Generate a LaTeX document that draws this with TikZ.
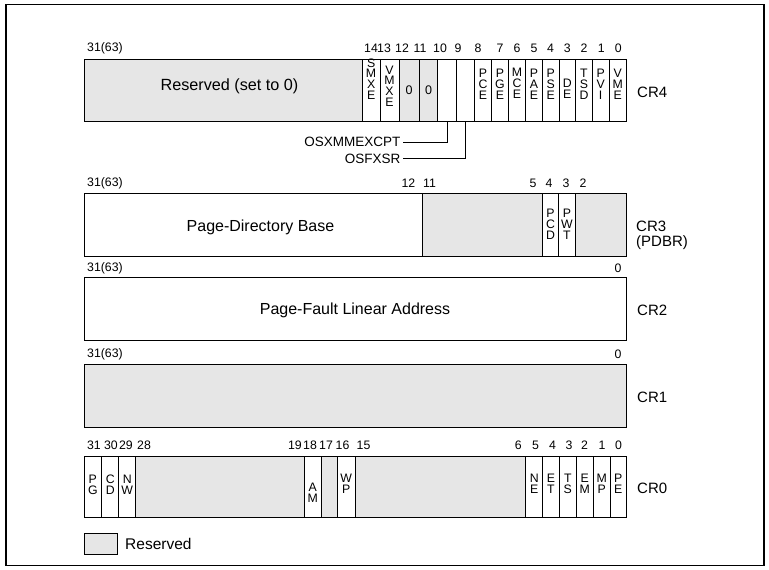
\documentclass[tikz,border=0pt]{standalone}
\usepackage{fontspec}
\setmainfont{Liberation Sans}
\definecolor{resgray}{RGB}{230,230,230}
\begin{document}
\begin{tikzpicture}[x=1pt,y=-1pt,
  cellbox/.style={draw=black,line width=1pt},
  res/.style={fill=resgray},
  bitno/.style={font=\fontsize{12.3}{13}\selectfont,inner sep=0pt},
  celltxt/.style={font=\fontsize{12.3}{10.8}\selectfont,align=center,inner sep=0pt},
  bigtxt/.style={font=\fontsize{16}{18}\selectfont,inner sep=0pt},
  crlab/.style={font=\fontsize{15}{17}\selectfont,inner sep=0pt,anchor=west},
  sidetxt/.style={font=\fontsize{13.5}{15}\selectfont,inner sep=0pt,anchor=east},
  conn/.style={draw=black,line width=1pt}]
\useasboundingbox (0,0) rectangle (769,570);
\draw[line width=1.2pt] (6,4.5) rectangle (764,565.5);

% ---------------- CR4 ----------------
\draw[cellbox,res] (84,59) rectangle (362.3,121);
\draw[cellbox] (362.3,59) rectangle (380,121);
\draw[cellbox] (380,59) rectangle (399,121);
\draw[cellbox,res] (399,59) rectangle (419.3,121);
\draw[cellbox,res] (419.3,59) rectangle (437.7,121);
\draw[cellbox] (437.7,59) rectangle (456.7,121);
\draw[cellbox] (456.7,59) rectangle (474.3,121);
\draw[cellbox] (474.3,59) rectangle (491.7,121);
\draw[cellbox] (491.7,59) rectangle (508.3,121);
\draw[cellbox] (508.3,59) rectangle (525.7,121);
\draw[cellbox] (525.7,59) rectangle (542.3,121);
\draw[cellbox] (542.3,59) rectangle (559,121);
\draw[cellbox] (559,59) rectangle (575.7,121);
\draw[cellbox] (575.7,59) rectangle (592.3,121);
\draw[cellbox] (592.3,59) rectangle (609,121);
\draw[cellbox] (609,59) rectangle (626.3,121);

\node[font=\fontsize{16.2}{19}\selectfont,inner sep=0pt] (cr4res) at (229.5,86) {Reserved (set to 0)};
\node[celltxt] (cr4smxe) at (371.1,79) {S\\M\\X\\E};
\node[celltxt] (cr4vmxe) at (389.5,86) {V\\M\\X\\E};
\node[celltxt,font=\fontsize{12.5}{12}\selectfont] (cr4z12) at (409.2,90) {0};
\node[celltxt,font=\fontsize{12.5}{12}\selectfont] (cr4z11) at (428.5,90) {0};
\node[celltxt] (cr4pce) at (483,84) {P\\C\\E};
\node[celltxt] (cr4pge) at (500,84) {P\\G\\E};
\node[celltxt] (cr4mce) at (517,83) {M\\C\\E};
\node[celltxt] (cr4pae) at (534,84) {P\\A\\E};
\node[celltxt] (cr4pse) at (550.7,84) {P\\S\\E};
\node[celltxt] (cr4de) at (567.3,89) {D\\E};
\node[celltxt] (cr4tsd) at (584,84) {T\\S\\D};
\node[celltxt] (cr4pvi) at (600.7,84) {P\\V\\I};
\node[celltxt] (cr4vme) at (617.7,84) {V\\M\\E};

\node[bitno,anchor=west] (cr4n31) at (87,48) {31(63)};
\node[bitno] (cr4n14) at (371,48) {14};
\node[bitno] (cr4n13) at (384,48) {13};
\node[bitno] (cr4n12) at (402,48) {12};
\node[bitno] (cr4n11) at (420,48) {11};
\node[bitno] (cr4n10) at (440,48) {10};
\node[bitno] (cr4n9) at (458,48) {9};
\node[bitno] (cr4n8) at (478,48) {8};
\node[bitno] (cr4n7) at (500,48) {7};
\node[bitno] (cr4n6) at (517,48) {6};
\node[bitno] (cr4n5) at (534,48) {5};
\node[bitno] (cr4n4) at (550.6,48) {4};
\node[bitno] (cr4n3) at (567.4,48) {3};
\node[bitno] (cr4n2) at (584,48) {2};
\node[bitno] (cr4n1) at (601.3,48) {1};
\node[bitno] (cr4n0) at (618.3,48) {0};
\node[crlab] (cr4lab) at (637,92) {CR4};

\coordinate (cr4b10) at (447.2,121);
\coordinate (cr4b9) at (465.5,121);
\node[sidetxt] (osx) at (400.5,142.3) {OSXMMEXCPT};
\node[sidetxt] (osf) at (400.5,158.5) {OSFXSR};
\draw[conn] ([xshift=2.5pt]osx.east) -| (cr4b10);
\draw[conn] ([xshift=2.5pt]osf.east) -| (cr4b9);

% ---------------- CR3 ----------------
\draw[cellbox] (84,193.3) rectangle (422.7,256);
\draw[cellbox,res] (422.7,193.3) rectangle (542.7,256);
\draw[cellbox] (542.7,193.3) rectangle (558.3,256);
\draw[cellbox] (558.3,193.3) rectangle (575.7,256);
\draw[cellbox,res] (575.7,193.3) rectangle (626.3,256);
\node[bigtxt] (cr3pdb) at (260.5,227) {Page-Directory Base};
\node[celltxt] (cr3pcd) at (550.5,224) {P\\C\\D};
\node[celltxt] (cr3pwt) at (567,224) {P\\W\\T};
\node[bitno,anchor=west] (cr3n31) at (87,183) {31(63)};
\node[bitno,anchor=east] (cr3n12) at (415.5,183) {12};
\node[bitno,anchor=west] (cr3n11) at (423,183) {11};
\node[bitno] (cr3n5) at (533,183) {5};
\node[bitno] (cr3n4) at (549,183) {4};
\node[bitno] (cr3n3) at (566,183) {3};
\node[bitno] (cr3n2) at (583,183) {2};
\node[crlab] (cr3lab) at (636,226) {CR3};
\node[crlab] (cr3lab2) at (636,243) {(PDBR)};

% ---------------- CR2 ----------------
\draw[cellbox] (84,277) rectangle (626.3,340);
\node[bigtxt] (cr2pfla) at (355,310) {Page-Fault Linear Address};
\node[bitno,anchor=west] (cr2n31) at (87,268) {31(63)};
\node[bitno] (cr2n0) at (618,268) {0};
\node[crlab] (cr2lab) at (637,310) {CR2};

% ---------------- CR1 ----------------
\draw[cellbox,res] (84,364) rectangle (626.3,427);
\node[bitno,anchor=west] (cr1n31) at (87,354) {31(63)};
\node[bitno] (cr1n0) at (618,354) {0};
\node[crlab] (cr1lab) at (637,397) {CR1};

% ---------------- CR0 ----------------
\draw[cellbox] (84,456) rectangle (101.7,517.7);
\draw[cellbox] (101.7,456) rectangle (118.7,517.7);
\draw[cellbox] (118.7,456) rectangle (135.7,517.7);
\draw[cellbox,res] (135.7,456) rectangle (304.3,517.7);
\draw[cellbox] (304.3,456) rectangle (321,517.7);
\draw[cellbox,res] (321,456) rectangle (337.7,517.7);
\draw[cellbox] (337.7,456) rectangle (355,517.7);
\draw[cellbox,res] (355,456) rectangle (525.7,517.7);
\draw[cellbox] (525.7,456) rectangle (542.7,517.7);
\draw[cellbox] (542.7,456) rectangle (559.3,517.7);
\draw[cellbox] (559.3,456) rectangle (576.3,517.7);
\draw[cellbox] (576.3,456) rectangle (593.3,517.7);
\draw[cellbox] (593.3,456) rectangle (610,517.7);
\draw[cellbox] (610,456) rectangle (626.3,517.7);
\node[celltxt] (cr0pg) at (92.8,485) {P\\G};
\node[celltxt] (cr0cd) at (110.2,485) {C\\D};
\node[celltxt] (cr0nw) at (127.2,485) {N\\W};
\node[celltxt] (cr0am) at (312.7,493) {A\\M};
\node[celltxt] (cr0wp) at (346.3,484) {W\\P};
\node[celltxt] (cr0ne) at (534.2,484) {N\\E};
\node[celltxt] (cr0et) at (551,484) {E\\T};
\node[celltxt] (cr0ts) at (567.8,484) {T\\S};
\node[celltxt] (cr0em) at (584.8,484) {E\\M};
\node[celltxt] (cr0mp) at (601.7,484) {M\\P};
\node[celltxt] (cr0pe) at (618.2,484) {P\\E};
\node[bitno] (cr0n31) at (94,445) {31};
\node[bitno] (cr0n30) at (111,445) {30};
\node[bitno] (cr0n29) at (126,445) {29};
\node[bitno,anchor=west] (cr0n28) at (137,445) {28};
\node[bitno,anchor=east] (cr0n19) at (302,445) {19};
\node[bitno] (cr0n18) at (310,445) {18};
\node[bitno] (cr0n17) at (326,445) {17};
\node[bitno] (cr0n16) at (342.5,445) {16};
\node[bitno,anchor=west] (cr0n15) at (356.5,445) {15};
\node[bitno,anchor=east] (cr0n6) at (522,445) {6};
\node[bitno] (cr0n5) at (535.5,445) {5};
\node[bitno] (cr0n4) at (552.5,445) {4};
\node[bitno] (cr0n3) at (569,445) {3};
\node[bitno] (cr0n2) at (584.5,445) {2};
\node[bitno] (cr0n1) at (602,445) {1};
\node[bitno] (cr0n0) at (618.5,445) {0};
\node[crlab] (cr0lab) at (637,488) {CR0};

% ---------------- legend ----------------
\draw[cellbox,res] (84,533.3) rectangle (117.3,554.3);
\node[crlab,font=\fontsize{15.5}{17}\selectfont] (leglab) at (125,544) {Reserved};
\end{tikzpicture}
\end{document}
